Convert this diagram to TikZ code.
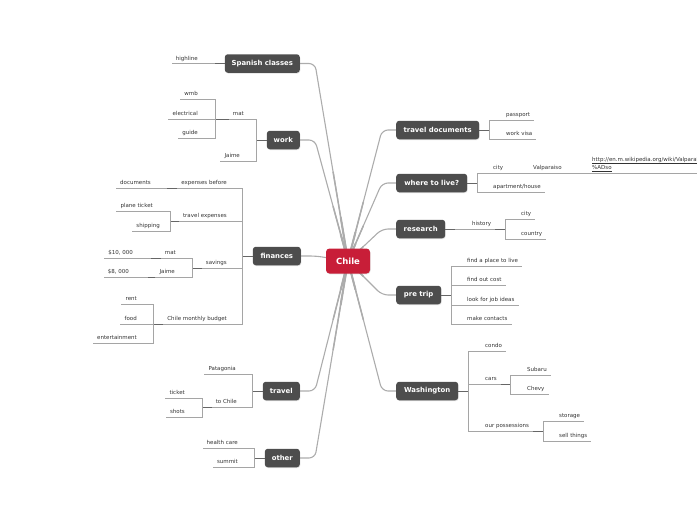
\documentclass[tikz,border=0pt]{standalone}
\usepackage{fontspec}
\setmainfont{DejaVu Sans}
\usetikzlibrary{backgrounds,calc,shadows}
\definecolor{topicgray}{RGB}{77,77,77}
\definecolor{chilered}{RGB}{200,30,56}
\definecolor{limbgray}{RGB}{172,172,172}
\definecolor{twiggray}{RGB}{165,165,165}

\begin{document}
\begin{tikzpicture}[
  x=1pt, y=-1pt,
  root/.style={fill=chilered, text=white, rounded corners=3.5pt, minimum width=44pt, minimum height=25pt, font=\fontsize{8.5}{10}\selectfont\bfseries, drop shadow={opacity=0.25, shadow xshift=0.5pt, shadow yshift=-0.8pt}},
  topic/.style={fill=topicgray, text=white, rounded corners=3pt, minimum height=18.5pt, inner xsep=2pt, font=\fontsize{6.9}{8}\selectfont\bfseries, drop shadow={opacity=0.25, shadow xshift=0.5pt, shadow yshift=-0.8pt}},
  ltopic/.style={topic, anchor=east},
  rtopic/.style={topic, anchor=west},
  leaf/.style={text=black!80, inner xsep=4pt, inner ysep=1.5pt, text height=4pt, text depth=1.5pt, font=\fontsize{5.5}{6.2}\selectfont},
  lleaf/.style={leaf, anchor=south east},
  rleaf/.style={leaf, anchor=south west},
  limb/.style={draw=limbgray, line width=1.1pt, rounded corners=6pt},
  twig/.style={draw=twiggray, line width=0.6pt},
  stub/.style={draw=gray!80!black, line width=0.9pt}
]
  \useasboundingbox (0,0) rectangle (697,520);

  \node[root] (chile) at (348,261) {Chile};

  \node[ltopic, minimum width=75pt] (spanish) at (300,63.5) {Spanish classes};
  \node[ltopic, minimum width=33pt] (work) at (300,140) {work};
  \node[ltopic, minimum width=48pt] (finances) at (301,256) {finances};
  \node[ltopic, minimum width=37pt] (travel) at (300,391) {travel};
  \node[ltopic, minimum width=35pt] (other) at (300,458) {other};
  \node[rtopic, minimum width=83pt] (travdocs) at (396,130) {travel documents};
  \node[rtopic, minimum width=71pt] (wheretolive) at (396,183) {where to live?};
  \node[rtopic, minimum width=49pt] (research) at (396,229) {research};
  \node[rtopic, minimum width=45pt] (pretrip) at (396,295) {pre trip};
  \node[rtopic, minimum width=62pt] (washington) at (396,391) {Washington};

  % left side
  \node[lleaf] (highline) at (202,63.5) {highline};
  \node[lleaf] (mat) at (248,119) {mat};
  \node[lleaf] (wmb) at (202,99) {wmb};
  \node[lleaf] (electrical) at (202,119) {electrical};
  \node[lleaf] (guide) at (202,138) {guide};
  \node[lleaf] (jaime) at (244,161) {Jaime};
  \node[lleaf] (expbefore) at (231,188) {expenses before};
  \node[lleaf] (documents) at (155,188) {documents};
  \node[lleaf] (travexp) at (231,221) {travel expenses};
  \node[lleaf] (planeticket) at (157,211) {plane ticket};
  \node[lleaf] (shipping) at (164,231) {shipping};
  \node[lleaf] (savings) at (231,268) {savings};
  \node[lleaf] (matsav) at (180,258) {mat};
  \node[lleaf] (tenk) at (137,258) {\$10, 000};
  \node[lleaf] (jaimesav) at (179,277) {Jaime};
  \node[lleaf] (eightk) at (133,277) {\$8, 000};
  \node[lleaf] (budget) at (231,324) {Chile monthly budget};
  \node[lleaf] (rent) at (141,304) {rent};
  \node[lleaf] (food) at (141,324) {food};
  \node[lleaf] (entertainment) at (141,343) {entertainment};
  \node[lleaf] (patagonia) at (240,374) {Patagonia};
  \node[lleaf] (tochile) at (241,407) {to Chile};
  \node[lleaf] (ticket) at (189,398) {ticket};
  \node[lleaf] (shots) at (189,417) {shots};
  \node[lleaf] (healthcare) at (242,448) {health care};
  \node[lleaf] (summit) at (242,467) {summit};

  % right side
  \node[rleaf] (passport) at (502,120) {passport};
  \node[rleaf] (workvisa) at (502,139) {work visa};
  \node[rleaf] (city) at (489,173) {city};
  \node[rleaf] (valparaiso) at (529,173) {Valparaiso};
  \node[rleaf, align=left, inner ysep=2pt] (url) at (588,173) {\underline{http://en.m.wikipedia.org/wiki/Valpara\%C3}\\\underline{\%ADso}};
  \node[rleaf] (apartment) at (489,192) {apartment/house};
  \node[rleaf] (history) at (468,229) {history};
  \node[rleaf] (citysub) at (517,219) {city};
  \node[rleaf] (country) at (517,239) {country};
  \node[rleaf] (findplace) at (463,266) {find a place to live};
  \node[rleaf] (findcost) at (463,285) {find out cost};
  \node[rleaf] (jobideas) at (463,305) {look for job ideas};
  \node[rleaf] (contacts) at (463,324) {make contacts};
  \node[rleaf] (condo) at (481,351) {condo};
  \node[rleaf] (cars) at (481,384) {cars};
  \node[rleaf] (subaru) at (523,375) {Subaru};
  \node[rleaf] (chevy) at (523,394) {Chevy};
  \node[rleaf] (possessions) at (481,431) {our possessions};
  \node[rleaf] (storage) at (555,421) {storage};
  \node[rleaf] (sellthings) at (555,441) {sell things};

  \coordinate (spanishbar) at ([xshift=-10pt]spanish.west);
  \coordinate (workbar) at ([xshift=-10pt]work.west);
  \coordinate (finbar) at ([xshift=-10pt]finances.west);
  \coordinate (travelbar) at ([xshift=-10pt]travel.west);
  \coordinate (otherbar) at ([xshift=-10pt]other.west);
  \coordinate (travdocsbar) at ([xshift=10pt]travdocs.east);
  \coordinate (wtlbar) at ([xshift=10pt]wheretolive.east);
  \coordinate (researchbar) at ([xshift=10pt]research.east);
  \coordinate (pretripbar) at ([xshift=10pt]pretrip.east);
  \coordinate (washbar) at ([xshift=10pt]washington.east);
  \coordinate (matbar) at (215,119);
  \coordinate (expbar) at (167,188);
  \coordinate (travexpbar) at (170,221);
  \coordinate (savbar) at (192,268);
  \coordinate (matsavbar) at (151,258);
  \coordinate (jaimesavbar) at (148,277);
  \coordinate (budgetbar) at (153,324);
  \coordinate (tochilebar) at (202,407);
  \coordinate (citybar) at (517,173);
  \coordinate (valbar) at (576,173);
  \coordinate (historybar) at (505,229);
  \coordinate (carsbar) at (510,384);
  \coordinate (posbar) at (543,431);

  \begin{scope}[on background layer]
    \foreach \t in {spanish,work,finances,travel,other}{
      \draw[limb] (chile.center) -- ([xshift=15pt]\t.east) -- (\t.east);
      \draw[limb, line width=1.5pt, line cap=round] (chile.center) -- ($(chile.center)!0.45!([xshift=15pt]\t.east)$);
      \draw[limb, line width=2pt, line cap=round] (chile.center) -- ($(chile.center)!0.22!([xshift=15pt]\t.east)$);
    }
    \foreach \t in {travdocs,wheretolive,research,pretrip,washington}{
      \draw[limb] (chile.center) -- ([xshift=-14pt]\t.west) -- (\t.west);
      \draw[limb, line width=1.5pt, line cap=round] (chile.center) -- ($(chile.center)!0.45!([xshift=-14pt]\t.west)$);
      \draw[limb, line width=2pt, line cap=round] (chile.center) -- ($(chile.center)!0.22!([xshift=-14pt]\t.west)$);
    }
  \end{scope}

  \draw[stub] (spanish.west) -- (spanishbar);
  \draw[twig] (spanishbar) |- (highline.south west);

  \draw[stub] (work.west) -- (workbar);
  \foreach \c in {mat,jaime} \draw[twig] (workbar) |- (\c.south west);
  \draw[stub] (mat.south west) -- (matbar);
  \foreach \c in {wmb,electrical,guide} \draw[twig] (matbar) |- (\c.south west);

  \draw[stub] (finances.west) -- (finbar);
  \foreach \c in {expbefore,travexp,savings,budget} \draw[twig] (finbar) |- (\c.south west);
  \draw[stub] (expbefore.south west) -- (expbar);
  \draw[twig] (expbar) -- (documents.south west);
  \draw[stub] (travexp.south west) -- (travexpbar);
  \foreach \c in {planeticket,shipping} \draw[twig] (travexpbar) |- (\c.south west);
  \draw[stub] (savings.south west) -- (savbar);
  \foreach \c in {matsav,jaimesav} \draw[twig] (savbar) |- (\c.south west);
  \draw[stub] (matsav.south west) -- (matsavbar);
  \draw[twig] (matsavbar) -- (tenk.south west);
  \draw[stub] (jaimesav.south west) -- (jaimesavbar);
  \draw[twig] (jaimesavbar) -- (eightk.south west);
  \draw[stub] (budget.south west) -- (budgetbar);
  \foreach \c in {rent,food,entertainment} \draw[twig] (budgetbar) |- (\c.south west);

  \draw[stub] (travel.west) -- (travelbar);
  \foreach \c in {patagonia,tochile} \draw[twig] (travelbar) |- (\c.south west);
  \draw[stub] (tochile.south west) -- (tochilebar);
  \foreach \c in {ticket,shots} \draw[twig] (tochilebar) |- (\c.south west);

  \draw[stub] (other.west) -- (otherbar);
  \foreach \c in {healthcare,summit} \draw[twig] (otherbar) |- (\c.south west);

  \draw[stub] (travdocs.east) -- (travdocsbar);
  \foreach \c in {passport,workvisa} \draw[twig] (travdocsbar) |- (\c.south east);

  \draw[stub] (wheretolive.east) -- (wtlbar);
  \foreach \c in {city,apartment} \draw[twig] (wtlbar) |- (\c.south east);
  \draw[twig] (city.south east) -- (citybar);
  \draw[twig] (citybar) -- (valparaiso.south east);
  \draw[twig] (valparaiso.south east) -- (valbar);
  \draw[twig] (valbar) -- (url.south east);

  \draw[stub] (research.east) -- (researchbar);
  \draw[twig] (researchbar) -- (history.south east);
  \draw[stub] (history.south east) -- (historybar);
  \foreach \c in {citysub,country} \draw[twig] (historybar) |- (\c.south east);

  \draw[stub] (pretrip.east) -- (pretripbar);
  \foreach \c in {findplace,findcost,jobideas,contacts} \draw[twig] (pretripbar) |- (\c.south east);

  \draw[stub] (washington.east) -- (washbar);
  \foreach \c in {condo,cars,possessions} \draw[twig] (washbar) |- (\c.south east);
  \draw[stub] (cars.south east) -- (carsbar);
  \foreach \c in {subaru,chevy} \draw[twig] (carsbar) |- (\c.south east);
  \draw[stub] (possessions.south east) -- (posbar);
  \foreach \c in {storage,sellthings} \draw[twig] (posbar) |- (\c.south east);
\end{tikzpicture}
\end{document}
